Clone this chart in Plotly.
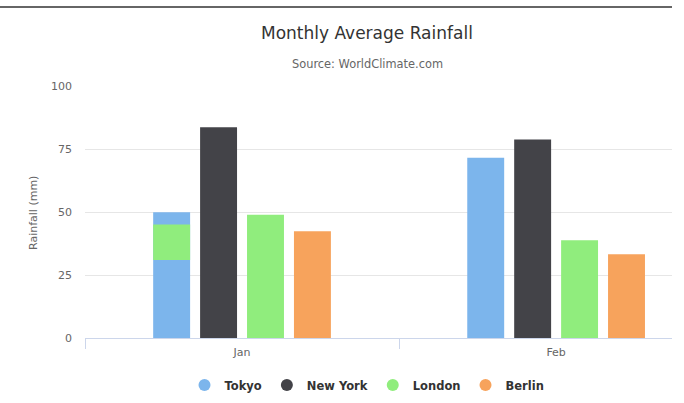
import plotly.graph_objects as go

categories = ["Jan", "Feb"]
series_names = ["Tokyo", "New York", "London", "Berlin"]
tokyo = [49.9, 71.5]
new_york = [83.6, 78.8]
london = [48.9, 38.8]
berlin = [42.4, 33.2]
# extra green segment drawn over the Tokyo January column in the reference
overlay_category = ["Jan"]
overlay_base = [31.0]
overlay_top = [45.0]

y_ticks = [0, 25, 50, 75, 100]

colors = {"Tokyo": "#7cb5ec", "New York": "#434348", "London": "#90ed7d", "Berlin": "#f7a35c"}
FONT = "DejaVu Sans"

W, H = 684, 403
L, R, T, B = 85, 12, 86, 65
pw, ph = W - L - R, H - T - B

def px_x(x):
    return (x - L) / pw

def px_y(y):
    return (H - B - y) / ph

xpos = list(range(len(categories)))
values = {"Tokyo": tokyo, "New York": new_york, "London": london, "Berlin": berlin}

fig = go.Figure()
for name in series_names:
    fig.add_trace(go.Bar(
        x=xpos, y=values[name], name=name, marker=dict(color=colors[name], line=dict(width=0)),
        offsetgroup=name, showlegend=False, hoverinfo="y+name",
    ))

ov_x = [categories.index(c) for c in overlay_category]
fig.add_trace(go.Bar(
    x=ov_x, y=[t - b for t, b in zip(overlay_top, overlay_base)], base=overlay_base,
    marker=dict(color=colors["London"], line=dict(width=0)),
    offsetgroup="Tokyo", showlegend=False, hoverinfo="skip",
))

for name in series_names:
    fig.add_trace(go.Scatter(
        x=[None], y=[None], mode="markers", name=name,
        marker=dict(color=colors[name], size=12, symbol="circle"),
    ))

fig.update_layout(
    width=W, height=H,
    margin=dict(l=L, r=R, t=T, b=B, autoexpand=False),
    paper_bgcolor="white", plot_bgcolor="white",
    barmode="group", bargap=0.4023, bargroupgap=0.213,
    font=dict(family=FONT, color="#666666", size=11),
    legend=dict(
        orientation="h", x=px_x(367), xanchor="center",
        yref="container", y=1 - 385 / H, yanchor="middle",
        font=dict(family=FONT, size=11.5, color="#333333", weight="bold"),
        itemclick=False, itemdoubleclick=False, tracegroupgap=0,
    ),
    xaxis=dict(
        range=[-0.5, 1.369], tickvals=xpos, ticktext=categories, ticks="",
        showline=True, linecolor="#ccd6eb", linewidth=1, showgrid=False, zeroline=False,
        tickfont=dict(size=11, color="#666666"), ticklabelstandoff=4, automargin=False,
        minor=dict(tickvals=[-0.5, 0.5], ticks="outside", ticklen=10, tickcolor="#ccd6eb", tickwidth=1, showgrid=False),
        fixedrange=True,
    ),
    yaxis=dict(
        range=[0, 100], tickvals=y_ticks, ticks="", showgrid=True, gridcolor="#e6e6e6", gridwidth=1,
        zeroline=False, showline=False, tickfont=dict(size=11, color="#666666"),
        ticklabelstandoff=12, automargin=False, fixedrange=True,
    ),
    annotations=[
        dict(text="Monthly Average Rainfall", x=px_x(367), y=px_y(33), xref="paper", yref="paper",
             xanchor="center", yanchor="middle", showarrow=False,
             font=dict(family=FONT, size=17, color="#333333")),
        dict(text="Source: WorldClimate.com", x=px_x(367), y=px_y(64), xref="paper", yref="paper",
             xanchor="center", yanchor="middle", showarrow=False,
             font=dict(family=FONT, size=11.4, color="#666666")),
        dict(text="Rainfall (mm)", x=px_x(33), y=px_y(213), xref="paper", yref="paper",
             xanchor="center", yanchor="middle", showarrow=False, textangle=-90,
             font=dict(family=FONT, size=11, color="#666666")),
    ],
    shapes=[
        dict(type="line", xref="paper", yref="paper", x0=px_x(0), x1=px_x(672), y0=px_y(7), y1=px_y(7),
             line=dict(color="#333333", width=1.5)),
    ],
)

fig.write_html(
    "out.html",
    config={"displayModeBar": False},
    post_script="document.body.style.margin='0';document.body.style.overflow='hidden';",
)
